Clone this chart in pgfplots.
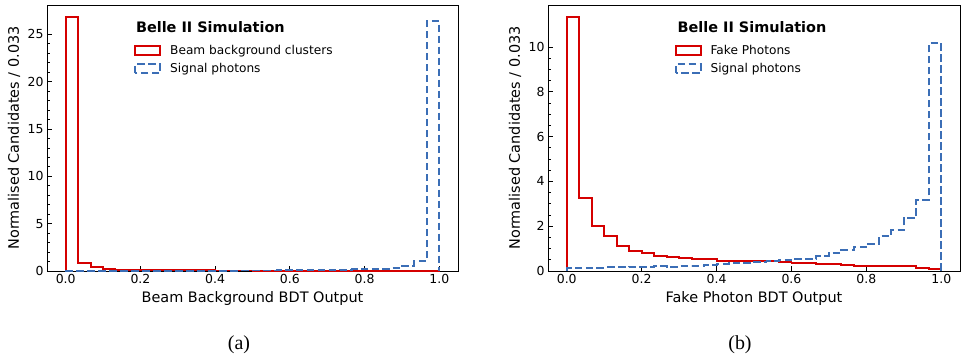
\documentclass[border=0pt]{standalone}
\usepackage{pgfplots}
\pgfplotsset{compat=1.18}
\usepackage{fontspec}
\setmainfont{DejaVu Sans}
\newfontfamily\timesfont{Liberation Serif}
\definecolor{hred}{RGB}{213,0,0}
\definecolor{hblue}{RGB}{59,110,182}
\pgfplotsset{
  belle/.style={
    scale only axis,
    width=411bp, height=266bp,
    xmin=-0.05, xmax=1.05, ymin=0,
    axis line style={line width=0.8bp, black},
    tick align=inside,
    xtick pos=left, ytick pos=left,
    major tick length=5bp, minor tick length=3bp,
    every tick/.style={black, line width=0.8bp},
    xtick={0,0.2,0.4,0.6,0.8,1.0},
    xticklabel style={/pgf/number format/.cd, fixed, fixed zerofill, precision=1},
    /pgf/number format/assume math mode=true,
    tick label style={font=\fontsize{12.5}{14}\selectfont},
    label style={font=\fontsize{14.5}{16}\selectfont},
    ylabel={Normalised Candidates / 0.033},
    ylabel style={at={(axis description cs:-0.08,0.5)}, anchor=center},
    xlabel style={at={(axis description cs:0.5,-0.105)}, anchor=center},
    legend style={draw=none, fill=none, font=\fontsize{12.2}{14}\selectfont,
      legend cell align=left, row sep=3.5bp, inner sep=0pt,
      nodes={inner sep=2bp},
      /tikz/every odd column/.append style={column sep=7bp}},
    legend image code/.code={\draw[#1] (0bp,-4.5bp) rectangle (25bp,4.5bp);},
  },
  redh/.style={const plot, hred, line width=1.9bp},
  blueh/.style={const plot, hblue, line width=1.9bp, dash pattern=on 7.5bp off 3.5bp},
}
\begin{document}
\begin{tikzpicture}
\useasboundingbox (0,0) rectangle (961bp,-361bp);
% ---------------- (a) ----------------
\begin{axis}[belle, at={(47bp,-271bp)}, anchor=south west,
  ymax=28.1, ytick={0,5,10,15,20,25}, minor y tick num=4,
  xlabel={Beam Background BDT Output},
  legend style={at={(axis description cs:0.212,0.857)}, anchor=north west}]
\addplot[redh] coordinates {
(0,0) (0,26.8) (0.03333,0.85) (0.06667,0.42) (0.1,0.25) (0.13333,0.15)
(0.16667,0.12) (0.2,0.10) (0.23333,0.09) (0.26667,0.08) (0.3,0.07)
(0.33333,0.06) (0.36667,0.06) (0.4,0.05) (0.43333,0.05) (0.46667,0.05)
(0.5,0.04) (0.53333,0.04) (0.56667,0.04) (0.6,0.04) (0.63333,0.03)
(0.66667,0.03) (0.7,0.03) (0.73333,0.03) (0.76667,0.03) (0.8,0.03)
(0.83333,0.03) (0.86667,0.03) (0.9,0.02) (0.93333,0.02) (0.96667,0.02)
(1,0.02) (1,0)};
\addlegendentry{Beam background clusters}
\addplot[blueh] coordinates {
(0,0) (0,0.03) (0.03333,0.03) (0.06667,0.03) (0.1,0.03) (0.13333,0.03)
(0.16667,0.03) (0.2,0.03) (0.23333,0.03) (0.26667,0.03) (0.3,0.03)
(0.33333,0.04) (0.36667,0.04) (0.4,0.04) (0.43333,0.04) (0.46667,0.05)
(0.5,0.05) (0.53333,0.05) (0.56667,0.06) (0.6,0.07) (0.63333,0.08)
(0.66667,0.09) (0.7,0.11) (0.73333,0.14) (0.76667,0.17) (0.8,0.20)
(0.83333,0.25) (0.86667,0.33) (0.9,0.55) (0.93333,1.04) (0.96667,26.4)
(1,26.4) (1,0)};
\addlegendentry{Signal photons}
\node[anchor=west, font=\bfseries\fontsize{14.5}{16}\selectfont]
  at (axis description cs:0.208,0.917) {Belle II Simulation};
\end{axis}
% ---------------- (b) ----------------
\begin{axis}[belle, at={(548bp,-271bp)}, anchor=south west, width=412bp,
  ymax=11.88, ytick={0,2,4,6,8,10}, minor y tick num=3,
  xlabel={Fake Photon BDT Output},
  legend style={at={(axis description cs:0.307,0.857)}, anchor=north west}]
\addplot[redh] coordinates {
(0,0) (0,11.34) (0.03333,3.28) (0.06667,2.03) (0.1,1.58) (0.13333,1.13)
(0.16667,0.89) (0.2,0.80) (0.23333,0.66) (0.26667,0.61) (0.3,0.60)
(0.33333,0.52) (0.36667,0.52) (0.4,0.46) (0.43333,0.43) (0.46667,0.43)
(0.5,0.46) (0.53333,0.43) (0.56667,0.39) (0.6,0.36) (0.63333,0.34)
(0.66667,0.31) (0.7,0.30) (0.73333,0.28) (0.76667,0.24) (0.8,0.22)
(0.83333,0.21) (0.86667,0.21) (0.9,0.21) (0.93333,0.15) (0.96667,0.09)
(1,0.09) (1,0)};
\addlegendentry{Fake Photons}
\addplot[blueh] coordinates {
(0,0) (0,0.12) (0.03333,0.13) (0.06667,0.15) (0.1,0.16) (0.13333,0.16)
(0.16667,0.19) (0.2,0.19) (0.23333,0.24) (0.26667,0.19) (0.3,0.22)
(0.33333,0.22) (0.36667,0.28) (0.4,0.30) (0.43333,0.34) (0.46667,0.37)
(0.5,0.42) (0.53333,0.45) (0.56667,0.48) (0.6,0.55) (0.63333,0.55)
(0.66667,0.67) (0.7,0.80) (0.73333,0.92) (0.76667,1.06) (0.8,1.22)
(0.83333,1.56) (0.86667,1.82) (0.9,2.37) (0.93333,3.19) (0.96667,10.18)
(1,10.18) (1,0)};
\addlegendentry{Signal photons}
\node[anchor=west, font=\bfseries\fontsize{14.5}{16}\selectfont]
  at (axis description cs:0.306,0.917) {Belle II Simulation};
\end{axis}
\node[font=\timesfont\fontsize{20}{22}\selectfont] at (239bp,-345bp) {(a)};
\node[font=\timesfont\fontsize{20}{22}\selectfont] at (740bp,-345bp) {(b)};
\end{tikzpicture}
\end{document}
